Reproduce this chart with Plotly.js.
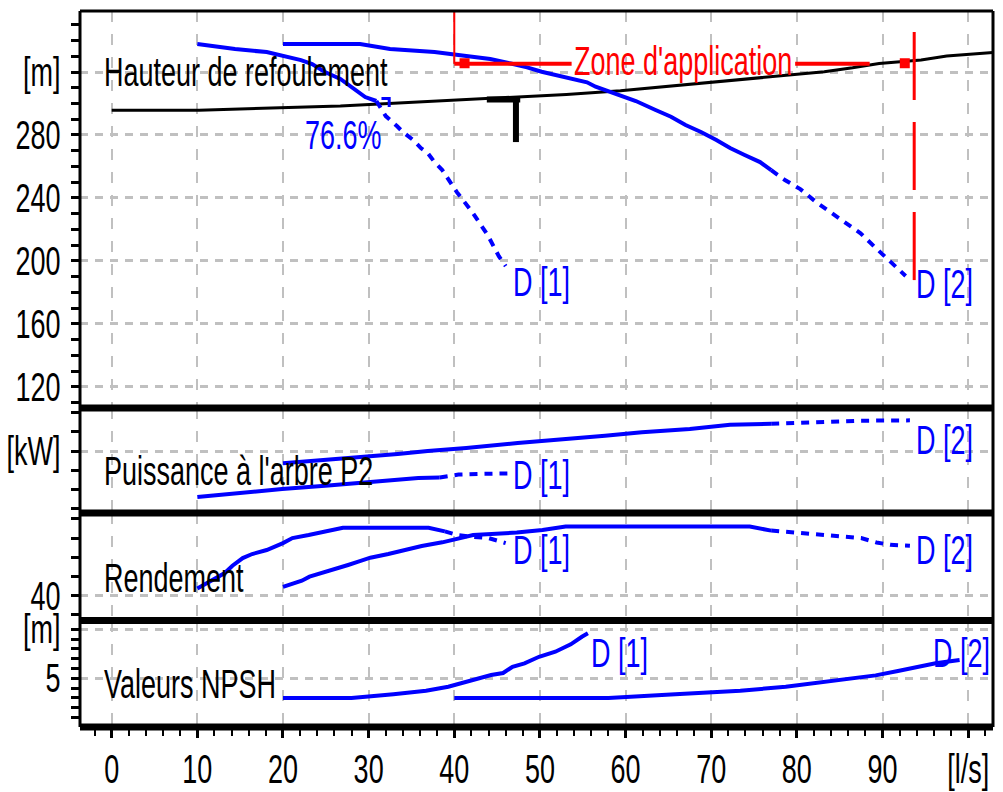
<!DOCTYPE html>
<html>
<head>
<meta charset="utf-8">
<script src="https://cdn.plot.ly/plotly-3.0.1.min.js"></script>
<style>
html,body{margin:0;padding:0;background:#fff;}
#chart{width:1003px;height:792px;}
</style>
</head>
<body>
<div id="chart"></div>
<script>
// ---------- data ----------
// x axis: flow Q [l/s]
const xTickVals = [0, 10, 20, 30, 40, 50, 60, 70, 80, 90, 100];
const xTickText = ['0', '10', '20', '30', '40', '50', '60', '70', '80', '90', '[l/s]'];

// Head panel [m]
const headTickVals = [120, 160, 200, 240, 280, 320];
const headTickText = ['120', '160', '200', '240', '280', '[m]'];
const headD1Q = [10, 14.4, 18.1, 19.9, 22.1, 23.4, 24.9, 26.7, 28.4, 29.6, 30.9];
const headD1H = [337.8, 334.6, 332.7, 330.2, 327.6, 325.1, 320.0, 315.6, 308.6, 304.1, 301.6];
const headD1DotQ = [30.9, 32.0, 33.3, 34.0, 35.2, 36.1, 36.9, 37.7, 38.6, 40.3, 42.1, 43.9, 45.2, 46.0];
const headD1DotH = [301.6, 292.0, 285.7, 281.9, 276.8, 271.7, 268.5, 262.8, 257.7, 243.7, 231.0, 216.4, 203.0, 196.7];
const headD2Q = [20, 29, 32.5, 37.7, 41.4, 44.2, 46.6, 48.5, 50.2, 52.0, 53.9, 55.5, 56.5, 58.9, 61.2, 63.5, 65.3, 67.0, 68.8, 70.6, 72.2, 73.9, 75.7, 77.0];
const headD2H = [337.8, 337.8, 334.6, 332.7, 330.2, 328.3, 325.4, 323.0, 320.2, 318.1, 316.0, 313.5, 310.7, 306.0, 301.6, 295.9, 291.6, 286.3, 281.9, 276.8, 271.7, 267.3, 262.8, 257.7];
const headD2DotQ = [77.0, 78.6, 80.4, 82.1, 83.9, 85.6, 87.4, 89.1, 91.0, 92.7];
const headD2DotH = [257.7, 251.4, 245.6, 238.0, 231.0, 224.7, 217.7, 208.8, 199.3, 190.4];
// system curve
const sysQ = [0, 10.2, 26.7, 37.6, 45.5, 53.1, 59.4, 64.7, 69.3, 74.0, 78.5, 83.2, 86.5, 89.6, 94.5, 97.5, 102.9];
const sysH = [295.8, 295.8, 298.4, 301.3, 303.8, 305.8, 308.1, 310.7, 313.2, 315.7, 317.9, 320.2, 322.7, 325.5, 327.6, 330.2, 332.5];
// operating point marker (T)
const opBarQ = [43.8, 47.7];
const opBarH = [302.5, 302.5];
const opStemQ = [47.2, 47.2];
const opStemH = [302.5, 275.5];
// best efficiency hook
const bepHookQ = [31.5, 32.4, 32.4];
const bepHookH = [303.2, 303.2, 297.8];
// application zone (red)
const zoneLeftQ = [40, 40];
const zoneLeftH = [325.2, 358.8];
const zoneLineQ = [40, 53.7, null, 79.8, 88.5];
const zoneLineH = [325.2, 325.2, null, 325.2, 325.2];
const zoneRightQ = [93.7, 93.7];
const zoneRightH = [345.4, 186.5];
const zoneMarkQ = [41.2, 92.6];
const zoneMarkH = [325.6, 325.6];

// Power panel [kW]
const powTickVals = [200];
const powTickText = ['[kW]'];
const powD1Q = [10, 14.7, 19.9, 25.3, 30.7, 35.8, 38.3];
const powD1P = [79.9, 90.3, 100.8, 109.9, 119.1, 129.5, 131.0];
const powD1DotQ = [38.3, 40.5, 43.5, 46.2];
const powD1DotP = [131.0, 138.5, 140.5, 141.3];
const powD2Q = [20, 27.2, 33.4, 36.9, 41.4, 47.4, 52.7, 57.6, 61.9, 67.5, 72.2, 77.0];
const powD2P = [168, 179.9, 192.2, 200.0, 207.8, 220.9, 229.5, 240.0, 248.8, 257.4, 268.7, 271.0];
const powD2DotQ = [77.0, 81.0, 87.4, 93.2];
const powD2DotP = [271.0, 275.0, 279.1, 280.0];

// Efficiency panel [%]
const effTickVals = [40];
const effTickText = ['40'];
const effD1Q = [10, 11.5, 13.2, 14.1, 15.3, 16.4, 18.1, 20.0, 21.1, 23.0, 25.3, 27.0, 37.0, 38.9];
const effD1E = [43.8, 47.3, 51.8, 55.6, 59.6, 61.7, 63.8, 67.4, 70.0, 71.6, 73.7, 75.4, 75.4, 73.5];
const effD1DotQ = [38.9, 40.4, 42.3, 44.0, 46.0];
const effD1DotE = [73.5, 71.6, 70.6, 70.0, 67.4];
const effD2Q = [20, 22.2, 23.1, 24.7, 26.4, 27.6, 28.8, 30.2, 32.3, 34.3, 36.2, 38.6, 40.5, 42.2, 47.3, 50.3, 53.0, 74.5, 77.0];
const effD2E = [44.6, 47.8, 49.9, 52.0, 53.9, 56.0, 57.7, 59.8, 61.7, 63.8, 65.9, 67.8, 69.9, 71.6, 72.9, 74.2, 76.0, 76.0, 73.9];
const effD2DotQ = [77.0, 80.0, 83.4, 87.5, 89.3, 90.9, 93.2];
const effD2DotE = [73.9, 72.8, 71.6, 70.0, 67.7, 66.5, 66.0];

// NPSH panel [m]
const npshTickVals = [5, 10];
const npshTickText = ['5', '[m]'];
const npshD1Q = [20, 28, 32.9, 36.7, 39.3, 40.9, 42.8, 44.3, 45.7, 46.8, 48.2, 49.9, 51.8, 53.6, 54.9, 55.6];
const npshD1N = [3.0, 3.0, 3.37, 3.73, 4.14, 4.55, 4.96, 5.34, 5.54, 6.18, 6.53, 7.2, 7.71, 8.47, 9.24, 9.59];
const npshD2Q = [40, 58, 65.8, 73.4, 78.7, 82.3, 85.8, 89.2, 91.8, 93.8, 96.2, 99.0];
const npshD2N = [3.0, 3.0, 3.37, 3.73, 4.14, 4.55, 4.96, 5.3, 5.74, 6.08, 6.53, 6.87];

// ---------- styling ----------
const BLUE = '#0000ff', RED = '#ff0000', BLACK = '#000000', GRID = '#c0c0c0';
const FONT = 'Liberation Sans, Arial, sans-serif';
const FS = 27;
const DOT = '8px,7px';

function ln(x, y, yaxis, color, width, dash) {
  return {x: x, y: y, yaxis: yaxis, type: 'scatter', mode: 'lines',
          line: {color: color, width: width, dash: dash || 'solid'},
          hoverinfo: 'skip', showlegend: false};
}

const data = [
  ln(sysQ, sysH, 'y', BLACK, 3),
  ln(headD1Q, headD1H, 'y', BLUE, 4),
  ln(headD1DotQ, headD1DotH, 'y', BLUE, 4, DOT),
  ln(headD2Q, headD2H, 'y', BLUE, 4),
  ln(headD2DotQ, headD2DotH, 'y', BLUE, 4, DOT),
  ln(bepHookQ, bepHookH, 'y', BLUE, 3),
  ln(opBarQ, opBarH, 'y', BLACK, 6),
  ln(opStemQ, opStemH, 'y', BLACK, 6),
  ln(zoneLeftQ, zoneLeftH, 'y', RED, 2),
  ln(zoneLineQ, zoneLineH, 'y', RED, 4),
  ln(zoneRightQ, zoneRightH, 'y', RED, 3, '68px,22px'),
  {x: zoneMarkQ, y: zoneMarkH, yaxis: 'y', type: 'scatter', mode: 'markers',
   marker: {symbol: 'square', size: 10, color: RED}, hoverinfo: 'skip', showlegend: false},

  ln(powD1Q, powD1P, 'y2', BLUE, 4),
  ln(powD1DotQ, powD1DotP, 'y2', BLUE, 4, DOT),
  ln(powD2Q, powD2P, 'y2', BLUE, 4),
  ln(powD2DotQ, powD2DotP, 'y2', BLUE, 4, DOT),

  ln(effD1Q, effD1E, 'y3', BLUE, 4),
  ln(effD1DotQ, effD1DotE, 'y3', BLUE, 4, DOT),
  ln(effD2Q, effD2E, 'y3', BLUE, 4),
  ln(effD2DotQ, effD2DotE, 'y3', BLUE, 4, DOT),

  ln(npshD1Q, npshD1N, 'y4', BLUE, 4),
  ln(npshD2Q, npshD2N, 'y4', BLUE, 4)
];

// panel boundaries (paper fractions, bottom -> top)
const dNpsh = [0, 0.14874];
const dEff = [0.14874, 0.29888];
const dPow = [0.29888, 0.44553];
const dHead = [0.44553, 1];

function yax(domain, range, tickvals, ticktext, minorDtick) {
  return {
    domain: domain, range: range, anchor: 'x',
    tickmode: 'array', tickvals: tickvals, ticktext: ticktext,
    ticks: 'outside', ticklen: 8, tickwidth: 3, tickcolor: BLACK,
    ticklabelstandoff: 5,
    showgrid: true, gridcolor: GRID, gridwidth: 3, griddash: '8px,7px',
    minor: {dtick: minorDtick, tick0: 0, ticks: 'outside', ticklen: 8, tickwidth: 3, tickcolor: BLACK, showgrid: false},
    zeroline: false, showline: false, fixedrange: true,
    tickfont: {family: FONT, size: FS, color: BLACK}
  };
}

function ann(text, x, y, yref, color) {
  return {text: text, x: x, y: y, xref: 'x', yref: yref, xanchor: 'left', yanchor: 'middle',
          showarrow: false, borderpad: 0, font: {family: FONT, size: FS, color: color}};
}

function hline(y, w) {
  return {type: 'line', xref: 'paper', yref: 'paper', x0: 0, x1: 1, y0: y, y1: y,
          line: {color: BLACK, width: w}, layer: 'above'};
}

const layout = {
  width: 1003, height: 792,
  margin: {l: 80, r: 10, t: 11, b: 65},
  paper_bgcolor: '#ffffff', plot_bgcolor: '#ffffff',
  showlegend: false,
  font: {family: FONT, size: FS, color: BLACK},
  xaxis: {
    range: [-3.70, 102.9], anchor: 'y4',
    tickmode: 'array', tickvals: xTickVals, ticktext: xTickText,
    ticks: 'outside', ticklen: 10, tickwidth: 3, tickcolor: BLACK,
    ticklabelstandoff: 8,
    showgrid: true, gridcolor: GRID, gridwidth: 2, griddash: '11px,12px',
    minor: {dtick: 2, tick0: 0, ticks: 'outside', ticklen: 8, tickwidth: 2, tickcolor: BLACK, showgrid: false},
    zeroline: false, showline: false, fixedrange: true,
    tickfont: {family: FONT, size: FS, color: BLACK}
  },
  yaxis: yax(dHead, [106.5, 358.8], headTickVals, headTickText, 10),
  yaxis2: yax(dPow, [38.1, 312.3], powTickVals, powTickText, 50),
  yaxis3: yax(dEff, [27.08, 83.07], effTickVals, effTickText, 10),
  yaxis4: yax(dNpsh, [0.03, 10.9], npshTickVals, npshTickText, 1),
  shapes: [
    hline(1, 3), hline(0, 7),
    hline(dNpsh[1], 7), hline(dEff[1], 7), hline(dPow[1], 7),
    {type: 'line', xref: 'paper', yref: 'paper', x0: 0, x1: 0, y0: 0, y1: 1, line: {color: BLACK, width: 3}, layer: 'above'},
    {type: 'line', xref: 'paper', yref: 'paper', x0: 1, x1: 1, y0: 0, y1: 1, line: {color: BLACK, width: 3}, layer: 'above'}
  ],
  annotations: [
    ann('Hauteur de refoulement', -1.0, 319.4, 'y', BLACK),
    ann('76.6%', 22.4, 279.3, 'y', BLUE),
    ann('D [1]', 46.7, 185.9, 'y', BLUE),
    ann('D [2]', 93.8, 184.6, 'y', BLUE),
    ann('Zone d\'application', 53.9, 326.4, 'y', RED),
    ann('Puissance à l\'arbre P2', -1.0, 143.9, 'y2', BLACK),
    ann('D [1]', 46.7, 134.8, 'y2', BLUE),
    ann('D [2]', 93.8, 226.1, 'y2', BLUE),
    ann('Rendement', -1.0, 48.7, 'y3', BLACK),
    ann('D [1]', 46.7, 63.3, 'y3', BLUE),
    ann('D [2]', 93.8, 63.3, 'y3', BLUE),
    ann('Valeurs NPSH', -1.0, 4.32, 'y4', BLACK),
    ann('D [1]', 55.8, 7.48, 'y4', BLUE),
    ann('D [2]', 95.8, 7.48, 'y4', BLUE)
  ]
};

Plotly.newPlot('chart', data, layout, {staticPlot: true, displayModeBar: false}).then(function (gd) {
  // the reference uses a tall, condensed bitmap font: stretch text vertically about its centre
  const k = 1.5;
  gd.querySelectorAll('text').forEach(function (t) {
    if (!t.textContent) return;
    const b = t.getBBox();
    if (!b.height) return;
    const cy = b.y + b.height / 2;
    const prev = t.getAttribute('transform') || '';
    t.setAttribute('transform', (prev + ' translate(0,' + cy + ') scale(1,' + k + ') translate(0,' + (-cy) + ')').trim());
  });
});
</script>
</body>
</html>
